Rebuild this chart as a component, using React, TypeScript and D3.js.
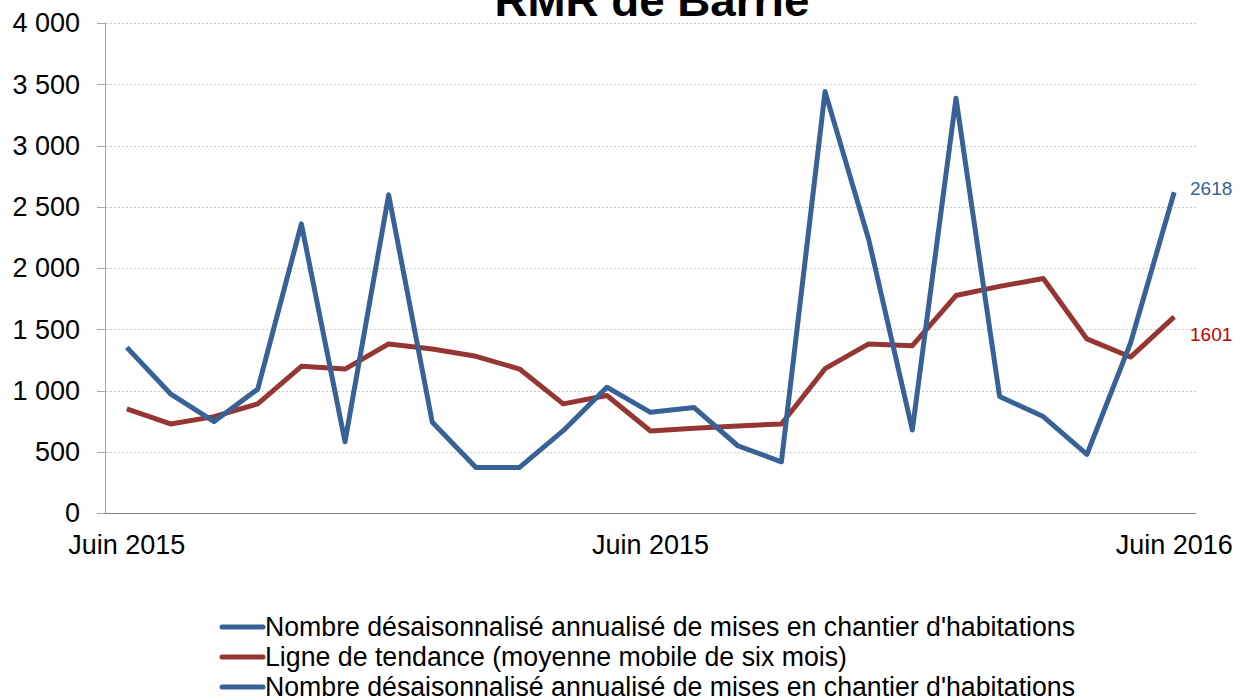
import React, { useEffect, useRef } from "react";
import * as d3 from "d3";

// Mises en chantier, RMR de Barrie (25 mois)
const months = d3.range(25);
const starts = [1352, 973, 746, 1011, 2360, 582, 2597, 740, 372, 372, 672, 1027, 822, 861, 549, 418, 3440, 2233, 678, 3386, 951, 787, 478, 1388, 2618];
const trend = [850, 727, 787, 891, 1197, 1175, 1380, 1339, 1279, 1175, 891, 959, 669, 691, 710, 727, 1178, 1380, 1366, 1775, 1850, 1914, 1421, 1273, 1601];
const xTickIdx = [0, 12, 24];
const xTickLabels = ["Juin 2015", "Juin 2015", "Juin 2016"];
const yTicks = [0, 500, 1000, 1500, 2000, 2500, 3000, 3500, 4000];
const legendLabels = [
  "Nombre désaisonnalisé annualisé de mises en chantier d'habitations",
  "Ligne de tendance (moyenne mobile de six mois)",
  "Nombre désaisonnalisé annualisé de mises en chantier d'habitations",
];

const BLUE = "#386295";
const RED = "#963634";

export default function App() {
  const ref = useRef<SVGSVGElement>(null);

  useEffect(() => {
    const svg = d3.select(ref.current);
    svg.selectAll("*").remove();

    const left = 105, right = 1196, top = 23, bottom = 513;
    const x = d3.scalePoint<number>().domain(months).range([left, right]).padding(0.5);
    const y = d3.scaleLinear().domain([0, 4000]).range([bottom, top]);
    const font = "'Liberation Sans', Arial, sans-serif";
    const fmt = (v: number) => d3.format(",")(v).replace(",", " ");

    // title, cut off by the top edge
    svg.append("text")
      .attr("x", 652).attr("y", 16)
      .attr("text-anchor", "middle")
      .attr("font-family", font).attr("font-weight", "bold")
      .attr("font-size", 44)
      .attr("textLength", 315).attr("lengthAdjust", "spacingAndGlyphs")
      .text("RMR de Barrie");

    // grid
    svg.append("g").selectAll("line")
      .data(yTicks.filter((d) => d > 0))
      .join("line")
      .attr("x1", left + 1).attr("x2", right)
      .attr("y1", (d) => Math.round(y(d)) + 0.5).attr("y2", (d) => Math.round(y(d)) + 0.5)
      .attr("stroke", "#c8c8c8").attr("stroke-width", 1)
      .attr("stroke-dasharray", "2,2");

    // y axis
    const yg = svg.append("g");
    yg.append("line")
      .attr("x1", left + 0.5).attr("x2", left + 0.5)
      .attr("y1", top).attr("y2", bottom)
      .attr("stroke", "#a6a6a6");
    yg.selectAll(".tk").data(yTicks).join("line").attr("class", "tk")
      .attr("x1", 97).attr("x2", left)
      .attr("y1", (d) => Math.round(y(d)) + 0.5).attr("y2", (d) => Math.round(y(d)) + 0.5)
      .attr("stroke", "#a6a6a6");
    yg.selectAll("text").data(yTicks).join("text")
      .attr("x", 80).attr("y", (d) => y(d))
      .attr("dy", "0.35em")
      .attr("text-anchor", "end")
      .attr("font-family", font).attr("font-size", 27)
      .attr("fill", "#000")
      .text((d) => fmt(d));

    // x axis
    svg.append("line")
      .attr("x1", left).attr("x2", right)
      .attr("y1", bottom + 0.5).attr("y2", bottom + 0.5)
      .attr("stroke", "#808080");
    svg.append("g").selectAll("text")
      .data(xTickIdx)
      .join("text")
      .attr("x", (d) => x(d)!)
      .attr("y", 554)
      .attr("text-anchor", "middle")
      .attr("font-family", font).attr("font-size", 27)
      .text((d, i) => xTickLabels[i]);

    // lines
    const line = d3.line<number>()
      .x((d, i) => x(i)!)
      .y((d) => y(d));

    svg.append("path")
      .datum(trend)
      .attr("d", line)
      .attr("fill", "none")
      .attr("stroke", RED).attr("stroke-width", 5)
      .attr("stroke-linejoin", "round");

    svg.append("path")
      .datum(starts)
      .attr("d", line)
      .attr("fill", "none")
      .attr("stroke", BLUE).attr("stroke-width", 5)
      .attr("stroke-linejoin", "round");

    // last value labels
    const last = months.length - 1;
    svg.append("text")
      .attr("x", 1190).attr("y", 195)
      .attr("font-family", font).attr("font-size", 19)
      .attr("fill", BLUE)
      .text(starts[last]);
    svg.append("text")
      .attr("x", 1190).attr("y", 341)
      .attr("font-family", font).attr("font-size", 19)
      .attr("fill", "#c00000")
      .text(trend[last]);

    // legend
    const legColors = [BLUE, RED, BLUE];
    const legWidths = [810, 582, 810];
    const leg = svg.append("g").selectAll("g")
      .data(legendLabels)
      .join("g")
      .attr("transform", (d, i) => `translate(0, ${627 + i * 30})`);
    leg.append("line")
      .attr("x1", 222).attr("x2", 263)
      .attr("stroke", (d, i) => legColors[i])
      .attr("stroke-width", 5)
      .attr("stroke-linecap", "round");
    leg.append("text")
      .attr("x", 265).attr("y", 0)
      .attr("dy", "0.35em")
      .attr("font-family", font).attr("font-size", 27)
      .attr("textLength", (d, i) => legWidths[i])
      .attr("lengthAdjust", "spacingAndGlyphs")
      .text((d) => d);
  }, []);

  return (
    <svg
      ref={ref}
      width={1240}
      height={698}
      style={{ position: "absolute", left: 0, top: 0, background: "#fff" }}
    />
  );
}
